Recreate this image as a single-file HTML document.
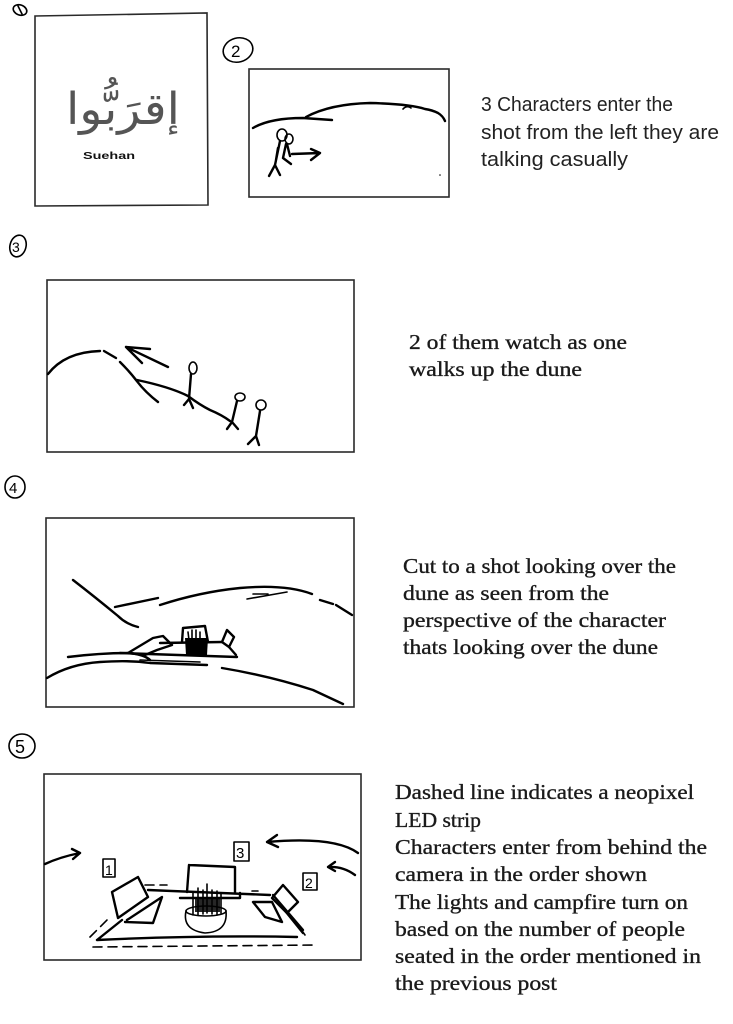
<!DOCTYPE html>
<html><head><meta charset="utf-8"><style>
html,body{margin:0;padding:0;background:#fff;width:733px;height:1024px;overflow:hidden}
svg{display:block}
.f{fill:none;stroke:#2a2a2a;stroke-width:1.6}
.s{fill:none;stroke:#000;stroke-width:2.4;stroke-linecap:round;stroke-linejoin:round}
.t{fill:none;stroke:#000;stroke-width:1.6;stroke-linecap:round;stroke-linejoin:round}
.sans{font-family:"Liberation Sans","DejaVu Sans",sans-serif;font-size:20px;fill:#222}
.ser{font-family:"Liberation Serif","DejaVu Serif",serif;font-size:21px;fill:#1a1a1a;stroke:#1a1a1a;stroke-width:0.35}
.n{font-family:"Liberation Sans",sans-serif;fill:#000}
</style></head><body>
<svg width="733" height="1024" viewBox="0 0 733 1024" xmlns="http://www.w3.org/2000/svg">

<!-- circled numbers -->
<ellipse class="t" cx="20" cy="10" rx="7" ry="5" transform="rotate(20 20 10)"/>
<line class="t" x1="18" y1="6" x2="22" y2="14"/>
<ellipse class="t" cx="238" cy="50" rx="15" ry="12" transform="rotate(-15 238 50)"/>
<text class="n" x="231" y="57" font-size="17">2</text>
<ellipse class="t" cx="18" cy="246" rx="8" ry="11" transform="rotate(15 18 246)"/>
<text class="n" x="12" y="252" font-size="14">3</text>
<ellipse class="t" cx="15" cy="487" rx="10" ry="11"/>
<text class="n" x="9" y="493" font-size="15">4</text>
<ellipse class="t" cx="22" cy="746" rx="13" ry="12"/>
<text class="n" x="15" y="753" font-size="18">5</text>

<!-- frame 1 -->
<path class="f" d="M35 16 L207 13 L208 205 L35 206 Z" stroke-width="2"/>
<text x="66" y="124" font-family="DejaVu Sans,sans-serif" font-size="44" fill="#555" textLength="114" lengthAdjust="spacingAndGlyphs">إقرَبُّوا</text>
<text x="83" y="159" font-family="Liberation Sans,sans-serif" font-size="10" font-weight="bold" fill="#111" textLength="52" lengthAdjust="spacingAndGlyphs">Suehan</text>

<!-- frame 2 -->
<rect class="f" x="249" y="69" width="200" height="128"/>
<path class="s" d="M253 128 Q270 118 303 118 L332 120"/>
<path class="s" d="M306 117 Q330 104 370 103 Q410 104 425 109 Q432 110 438 113 Q443 116 445 121"/>
<path class="t" d="M403 109 Q407 105 411 108"/>
<ellipse class="t" cx="282" cy="135" rx="5" ry="6"/>
<ellipse class="t" cx="289" cy="139" rx="4" ry="5"/>
<path class="s" d="M280 141 L275 165 M275 165 L269 176 M275 165 L280 175 M278 148 L276 160 M286 144 L283 158 M283 158 L291 164 M287 144 L290 156"/>
<path class="s" d="M292 154 L320 153 M311 149 L320 153 L311 160"/>
<circle cx="440" cy="175" r="0.8" fill="#000"/>

<!-- text 2 -->
<text class="sans" x="481" y="111" textLength="192" lengthAdjust="spacingAndGlyphs">3 Characters enter the</text>
<text class="sans" x="481" y="139" textLength="238" lengthAdjust="spacingAndGlyphs">shot from the left they are</text>
<text class="sans" x="481" y="166" textLength="147" lengthAdjust="spacingAndGlyphs">talking casually</text>

<!-- frame 3 -->
<rect class="f" x="47" y="280" width="307" height="172"/>
<path class="s" d="M48 374 Q65 352 100 351"/>
<path class="s" d="M104 351 L116 358"/>
<path class="s" d="M120 362 Q130 372 136 380 Q145 392 158 402"/>
<path class="s" d="M137 380 Q170 387 188 396 Q200 405 210 410 Q222 415 230 421"/>
<path class="s" d="M126 347 L168 367 M126 347 L150 349 M126 347 L142 363"/>
<ellipse class="t" cx="193" cy="368" rx="4" ry="6" stroke-width="2.2"/>
<path class="s" d="M191 374 L189 399 M189 399 L184 405 M189 399 L193 408"/>
<ellipse class="t" cx="240" cy="397" rx="5" ry="4" stroke-width="2.2"/>
<path class="s" d="M237 401 L232 422 M232 422 L227 429 M232 422 L238 429"/>
<ellipse class="t" cx="261" cy="405" rx="5" ry="5" stroke-width="2.2"/>
<path class="s" d="M260 411 L256 436 M256 436 L248 444 M256 436 L259 445"/>

<!-- text 3 -->
<text class="ser" x="409" y="349" textLength="218" lengthAdjust="spacingAndGlyphs">2 of them watch as one</text>
<text class="ser" x="409" y="376" textLength="173" lengthAdjust="spacingAndGlyphs">walks up the dune</text>

<!-- frame 4 -->
<rect class="f" x="46" y="518" width="308" height="189"/>
<path class="s" d="M73 580 Q95 597 118 616 Q126 624 138 627"/>
<path class="s" d="M115 607 L158 598"/>
<path class="s" d="M160 605 Q200 592 240 588 Q285 584 312 594"/>
<path class="t" d="M247 599 L287 592 M253 594 L268 594" stroke-width="2"/>
<path class="s" d="M320 600 L333 604 M336 605 L352 615"/>
<path class="s" d="M68 657 Q100 653 130 653 Q145 655 150 660"/>
<path class="s" d="M47 678 Q70 664 100 662 Q130 660 150 663 L207 665"/>
<path class="s" d="M222 668 Q270 676 313 690 Q330 698 343 704"/>
<path class="s" d="M120 653 L237 657"/>
<path class="t" d="M140 660 L200 662" stroke-width="2"/>
<path class="s" d="M183 628 L205 626 L208 642 M183 628 L182 642"/>
<path fill="#000" d="M185 638 L208 638 L207 655 L186 655 Z"/>
<path class="t" d="M188 632 L189 640 M192 630 L192 640 M196 630 L196 640 M200 632 L200 640" stroke-width="1.8"/>
<path class="s" d="M160 643 L222 642"/>
<path class="s" d="M128 653 L153 638 L163 636 L172 645 L157 650 L145 655 Z" stroke-width="2" fill="#fff"/>
<path class="s" d="M227 630 L234 637 L229 647 L222 642 Z" stroke-width="2"/>
<path class="s" d="M229 647 L236 655"/>

<!-- text 4 -->
<text class="ser" x="403" y="573" textLength="273" lengthAdjust="spacingAndGlyphs">Cut to a shot looking over the</text>
<text class="ser" x="403" y="600" textLength="206" lengthAdjust="spacingAndGlyphs">dune as seen from the</text>
<text class="ser" x="403" y="627" textLength="263" lengthAdjust="spacingAndGlyphs">perspective of the character</text>
<text class="ser" x="403" y="654" textLength="255" lengthAdjust="spacingAndGlyphs">thats looking over the dune</text>

<!-- frame 5 -->
<rect class="f" x="44" y="774" width="317" height="186"/>
<path class="s" d="M45 864 Q60 857 80 853 M72 849 L80 853 L73 859" stroke-width="2"/>
<path class="s" d="M358 853 Q335 836 267 842 M277 835 L267 842 L278 847" stroke-width="2"/>
<path class="s" d="M355 875 Q343 866 328 867 M335 862 L328 867 L335 871" stroke-width="2"/>
<rect class="t" x="103" y="859" width="12" height="18"/>
<text class="n" x="105" y="875" font-size="14">1</text>
<rect class="t" x="234" y="842" width="15" height="19"/>
<text class="n" x="236" y="858" font-size="15">3</text>
<rect class="t" x="303" y="873" width="14" height="17"/>
<text class="n" x="305" y="888" font-size="14">2</text>
<!-- platform -->
<path class="s" d="M97 940 L122 920 M97 940 Q200 935 297 937 M148 890 L270 895 M282 907 L303 933" stroke-width="2"/>
<path class="t" d="M90 937 L110 917 M93 947 L317 945 M145 885 L167 885 M252 891 L258 891 M300 928 L305 935" stroke-width="2" stroke-dasharray="9 6"/>
<!-- screen -->
<path class="s" d="M189 865 L235 867 L235 893 M189 865 L187 892" stroke-width="2"/>
<path class="s" d="M180 898 L240 898 L240 893" stroke-width="2"/>
<path fill="#000" d="M195 898 L220 898 L220 912 L195 912 Z" opacity="0.85"/>
<path class="t" d="M193 892 L193 915 M198 888 L198 915 M203 890 L203 914 M207 884 L207 913 M212 890 L212 914 M217 891 L217 915 M221 893 L221 913" stroke-width="1.8"/>
<ellipse class="t" cx="206" cy="911" rx="20" ry="5" stroke-width="2"/>
<path class="t" d="M186 911 Q182 930 205 933 Q228 932 226 911" stroke-width="2"/>
<!-- left chair -->
<path class="s" d="M112 892 L138 877 L148 897 L118 918 Z" stroke-width="2.6"/>
<path class="s" d="M127 920 L162 897 L153 923 L125 922" stroke-width="2"/>
<!-- right chair -->
<path class="s" d="M272 898 L283 885 L298 902 L287 913 Z" stroke-width="2"/>
<path class="s" d="M253 902 L272 902 L282 922 L265 917 Z" stroke-width="2"/>
<path class="s" d="M273 895 L303 930" stroke-width="2"/>

<!-- text 5 -->
<text class="ser" x="395" y="799" textLength="299" lengthAdjust="spacingAndGlyphs">Dashed line indicates a neopixel</text>
<text class="ser" x="395" y="827" textLength="86" lengthAdjust="spacingAndGlyphs" font-size="21">LED strip</text>
<text class="ser" x="395" y="854" textLength="312" lengthAdjust="spacingAndGlyphs">Characters enter from behind the</text>
<text class="ser" x="395" y="881" textLength="252" lengthAdjust="spacingAndGlyphs">camera in the order shown</text>
<text class="ser" x="395" y="909" textLength="293" lengthAdjust="spacingAndGlyphs">The lights and campfire turn on</text>
<text class="ser" x="395" y="936" textLength="290" lengthAdjust="spacingAndGlyphs">based on the number of people</text>
<text class="ser" x="395" y="963" textLength="306" lengthAdjust="spacingAndGlyphs">seated in the order mentioned in</text>
<text class="ser" x="395" y="990" textLength="162" lengthAdjust="spacingAndGlyphs">the previous post</text>
</svg>
</body></html>
